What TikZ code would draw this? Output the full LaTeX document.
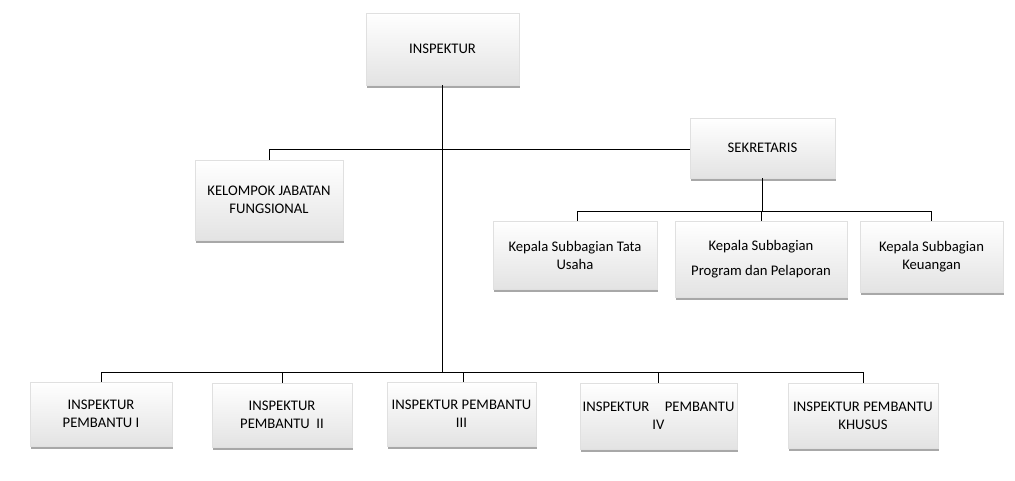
\documentclass[tikz,border=0pt]{standalone}
\usepackage{fontspec}
\setmainfont{Carlito}
\usetikzlibrary{shadows}
\begin{document}
\begin{tikzpicture}[x=0.75pt,y=-0.75pt,
  box/.style={draw=black!12,line width=0.3pt,top color=white,bottom color=black!11,
    drop shadow={shadow xshift=0.8pt,shadow yshift=-2.2pt,opacity=0.45,fill=black!75},
    align=center,inner sep=1pt,font=\fontsize{11}{13.5}\selectfont},
  conn/.style={draw=black,line width=0.75pt}]
\useasboundingbox (0,0) rectangle (1015,481);
\fill[white] (0,0) rectangle (1015,481);
\coordinate (busA) at (0,372);
\coordinate (busB) at (0,212);
\coordinate (busC) at (0,150);
% nodes
\node[box,minimum width=153*0.75pt,minimum height=72*0.75pt] (insp) at (442.5,49) {INSPEKTUR};
\node[box,minimum width=148*0.75pt,minimum height=80*0.75pt] (kel) at (269,200) {KELOMPOK JABATAN\\FUNGSIONAL};
\node[box,minimum width=145*0.75pt,minimum height=60*0.75pt] (sek) at (762.5,148) {SEKRETARIS};
\node[box,minimum width=164*0.75pt,minimum height=68*0.75pt] (tu) at (575,255) {Kepala Subbagian Tata\\Usaha};
\node[box,minimum width=172*0.75pt,minimum height=76*0.75pt] (prog) at (761,259) {Kepala Subbagian\\[5pt]Program dan Pelaporan};
\node[box,minimum width=143*0.75pt,minimum height=71*0.75pt] (keu) at (931.5,256.5) {Kepala Subbagian\\Keuangan};
\node[box,minimum width=142*0.75pt,minimum height=64*0.75pt] (p1) at (101,414) {INSPEKTUR\\PEMBANTU I};
\node[box,minimum width=140*0.75pt,minimum height=64*0.75pt] (p2) at (282,415) {INSPEKTUR\\PEMBANTU\ \ II};
\node[box,minimum width=149*0.75pt,minimum height=64*0.75pt] (p3) at (461.5,414) {INSPEKTUR PEMBANTU\\III};
\node[box,minimum width=157*0.75pt,minimum height=66*0.75pt] (p4) at (658.5,416) {INSPEKTUR\hspace{1.05em}PEMBANTU\\IV};
\node[box,minimum width=150*0.75pt,minimum height=65*0.75pt] (p5) at (863,415.5) {INSPEKTUR PEMBANTU\\KHUSUS};
% connectors
\draw[conn] (insp.south) -- (insp.south |- busA);
\draw[conn] (p1.north) -- (p1.north |- busA) -- (p5.north |- busA) -- (p5.north);
\draw[conn] (p2.north) -- (p2.north |- busA);
\draw[conn] ([xshift=1.2pt]p3.north) -- ([xshift=1.2pt]p3.north |- busA);
\draw[conn] (p4.north) -- (p4.north |- busA);
\draw[conn] (kel.north) -- (kel.north |- busC) -- (sek.west |- busC);
\draw[conn] (sek.south) -- (sek.south |- busB);
\draw[conn] ([xshift=1.5pt]tu.north) -- ([xshift=1.5pt]tu.north |- busB) -- (keu.north |- busB) -- (keu.north);
\draw[conn] (prog.north) -- (prog.north |- busB);
\end{tikzpicture}
\end{document}
